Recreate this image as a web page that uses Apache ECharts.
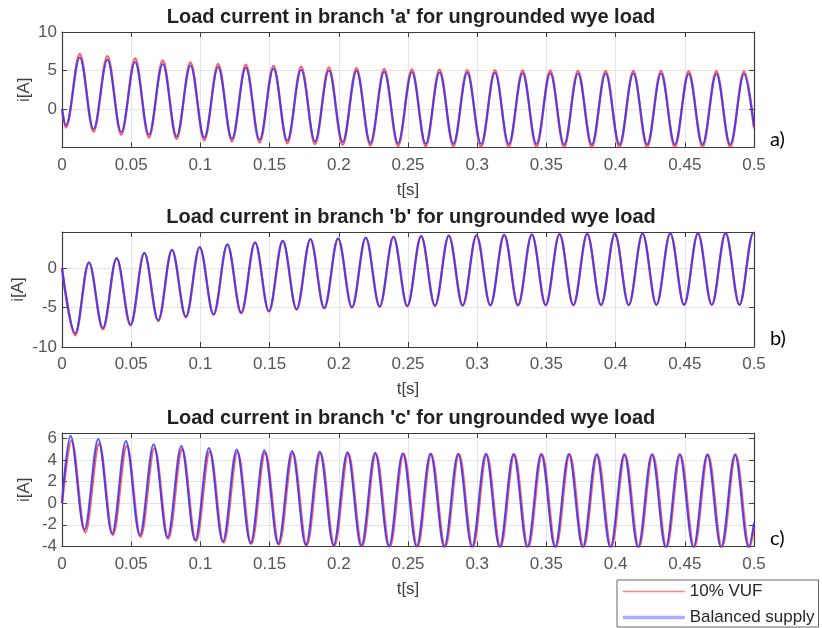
<!DOCTYPE html>
<html><head><meta charset="utf-8">
<script src="https://cdn.jsdelivr.net/npm/echarts@6/dist/echarts.min.js"></script>
<style>html,body{margin:0;padding:0;background:#fff}#c{width:822px;height:628px}</style>
</head><body><div id="c"></div><script>
// ---------------- data ----------------
const seriesNames = ['10% VUF', 'Balanced supply'];
const titles = [
  "Load current in branch 'a' for ungrounded wye load",
  "Load current in branch 'b' for ungrounded wye load",
  "Load current in branch 'c' for ungrounded wye load"
];
const panelTags = ['a)', 'b)', 'c)'];
const xName = 't[s]';
const yName = 'i[A]';

// Successive extremes occur every half cycle (10 ms); first extreme time per trace
const halfPeriod = 0.01;

// branch a : trough first
const aT0 = 0.0028;
const aRedTroughs  = [-2.4,-2.95,-3.35,-3.7,-3.9,-4.05,-4.2,-4.35,-4.45,-4.55,-4.65,-4.75,-4.8,-4.85,-4.85,-4.9,-4.9,-4.9,-4.95,-4.95,-4.95,-4.95,-4.95,-4.95,-4.95];
const aRedPeaks    = [7.15,6.85,6.55,6.3,6.05,5.85,5.75,5.6,5.5,5.4,5.3,5.2,5.15,5.1,5.05,5.05,5.0,5.0,4.95,4.95,4.95,4.95,4.9,4.9,4.9];
const aBlueTroughs = [-2.1,-2.6,-3.0,-3.35,-3.55,-3.7,-3.85,-4.0,-4.1,-4.2,-4.3,-4.4,-4.45,-4.5,-4.5,-4.55,-4.55,-4.55,-4.6,-4.6,-4.6,-4.6,-4.6,-4.6,-4.6];
const aBluePeaks   = [6.7,6.4,6.1,5.85,5.65,5.45,5.35,5.25,5.1,5.0,4.95,4.85,4.8,4.75,4.7,4.7,4.65,4.65,4.6,4.6,4.6,4.6,4.55,4.55,4.55];
const aRedEnds  = [0, -2.5];
const aBlueEnds = [0, -2.3];

// branch b : trough first
const bT0 = 0.0095;
const bRedTroughs  = [-8.5,-7.75,-7.25,-6.7,-6.22,-5.9,-5.7,-5.5,-5.25,-5.1,-5.0,-4.9,-4.83,-4.78,-4.75,-4.72,-4.72,-4.7,-4.7,-4.68,-4.68,-4.67,-4.67,-4.67,-4.67];
const bRedPeaks    = [0.7,1.25,1.9,2.3,2.65,3.0,3.25,3.45,3.65,3.76,3.86,3.96,4.06,4.12,4.17,4.22,4.27,4.32,4.35,4.37,4.4,4.42,4.43,4.44,4.45];
const bBlueTroughs = [-8.25,-7.6,-7.15,-6.6,-6.15,-5.85,-5.65,-5.45,-5.2,-5.05,-4.95,-4.85,-4.8,-4.75,-4.72,-4.7,-4.7,-4.68,-4.68,-4.66,-4.66,-4.65,-4.65,-4.65,-4.65];
const bBluePeaks   = [0.75,1.3,1.95,2.35,2.7,3.05,3.3,3.5,3.7,3.8,3.9,4.0,4.1,4.15,4.2,4.25,4.3,4.35,4.38,4.4,4.42,4.44,4.45,4.46,4.47];
const bRedEnds  = [0, 4.45];
const bBlueEnds = [0, 4.47];

// branch c : peak first (red lags blue slightly)
const cRedT0 = 0.0068;
const cBlueT0 = 0.0062;
const cRedPeaks    = [5.78,5.5,5.32,5.1,5.0,4.8,4.75,4.7,4.65,4.62,4.6,4.57,4.55,4.54,4.53,4.52,4.52,4.51,4.51,4.5,4.5,4.5,4.5,4.5,4.5];
const cRedTroughs  = [-2.7,-2.95,-3.1,-3.28,-3.5,-3.64,-3.76,-3.82,-3.9,-3.95,-4.0,-4.04,-4.06,-4.07,-4.08,-4.08,-4.09,-4.09,-4.1,-4.1,-4.1,-4.1,-4.1,-4.1,-4.1];
const cBluePeaks   = [6.25,5.95,5.75,5.45,5.3,5.12,4.97,4.9,4.84,4.78,4.72,4.66,4.63,4.6,4.58,4.57,4.56,4.55,4.55,4.54,4.54,4.53,4.53,4.52,4.52];
const cBlueTroughs = [-2.45,-2.82,-2.98,-3.18,-3.44,-3.58,-3.72,-3.78,-3.87,-3.92,-3.98,-4.02,-4.04,-4.05,-4.06,-4.07,-4.08,-4.08,-4.09,-4.09,-4.1,-4.1,-4.1,-4.1,-4.1];
const cRedEnds  = [0, -2.2];
const cBlueEnds = [0, -1.8];

// ---------------- build point lists from the read values ----------------
function trace(t0, firstSet, secondSet, ends) {
  const pts = [[0, ends[0]]];
  const n = firstSet.length + secondSet.length;
  for (let k = 0; k < n; k++) {
    const t = Math.round((t0 + halfPeriod * k) * 1e5) / 1e5;
    const v = (k % 2 === 0) ? firstSet[k >> 1] : secondSet[k >> 1];
    if (t <= 0.5) pts.push([t, v]);
  }
  pts.push([0.5, ends[1]]);
  return pts;
}
const traces = [
  [trace(aT0, aRedTroughs, aRedPeaks, aRedEnds), trace(aT0, aBlueTroughs, aBluePeaks, aBlueEnds)],
  [trace(bT0, bRedTroughs, bRedPeaks, bRedEnds), trace(bT0, bBlueTroughs, bBluePeaks, bBlueEnds)],
  [trace(cRedT0, cRedPeaks, cRedTroughs, cRedEnds), trace(cBlueT0, cBluePeaks, cBlueTroughs, cBlueEnds)]
];

// ---------------- layout / style ----------------
const gridBoxes = [
  {left: 62, top: 32, width: 692, height: 115.5, outerBoundsMode: 'none', containLabel: false},
  {left: 62, top: 232, width: 692, height: 115, outerBoundsMode: 'none', containLabel: false},
  {left: 62, top: 433, width: 692, height: 113.4, outerBoundsMode: 'none', containLabel: false}
];
const yRanges = [
  {min: -5, max: 10, interval: 5, showMin: false, showMax: true, nameGap: 29},
  {min: -10, max: 4.6, interval: 5, showMin: true, showMax: false, nameGap: 35},
  {min: -4, max: 6.5, interval: 2, showMin: true, showMax: false, nameGap: 29}
];
const frameColor = '#3c3c3c';
const labelColor = '#555555';
const gridColor = '#e4e4e4';
const FONT = 'Liberation Sans, Arial, sans-serif';

const xAxes = [], yAxes = [], series = [], titleList = [];
gridBoxes.forEach((g, i) => {
  xAxes.push({
    type: 'value', gridIndex: i, min: 0, max: 0.5, interval: 0.05, position: 'bottom',
    name: xName, nameLocation: 'middle', nameGap: 34, nameMoveOverlap: false,
    nameTextStyle: {fontSize: 17, color: '#404040', fontFamily: FONT},
    axisLine: {show: true, onZero: false, lineStyle: {color: frameColor, width: 1.2}},
    axisTick: {show: true, inside: true, length: 5, lineStyle: {color: frameColor}},
    axisLabel: {fontSize: 17, color: labelColor, margin: 9, fontFamily: FONT},
    splitLine: {show: true, lineStyle: {color: gridColor, width: 1}}
  });
  xAxes.push({
    type: 'value', gridIndex: i, min: 0, max: 0.5, interval: 0.05, position: 'top',
    axisLine: {show: true, onZero: false, lineStyle: {color: frameColor, width: 1.2}},
    axisTick: {show: true, inside: true, length: 5, lineStyle: {color: frameColor}},
    axisLabel: {show: false}, splitLine: {show: false}
  });
  const r = yRanges[i];
  yAxes.push({
    type: 'value', gridIndex: i, min: r.min, max: r.max, interval: r.interval, position: 'left',
    name: yName, nameLocation: 'middle', nameGap: r.nameGap, nameMoveOverlap: false,
    nameTextStyle: {fontSize: 17, color: '#404040', fontFamily: FONT},
    axisLine: {show: true, onZero: false, lineStyle: {color: frameColor, width: 1.2}},
    axisTick: {show: true, inside: true, length: 5, lineStyle: {color: frameColor}},
    axisLabel: {fontSize: 17, color: labelColor, margin: 5, fontFamily: FONT,
      showMinLabel: r.showMin, showMaxLabel: r.showMax},
    splitLine: {show: true, lineStyle: {color: gridColor, width: 1}}
  });
  yAxes.push({
    type: 'value', gridIndex: i, min: r.min, max: r.max, interval: r.interval, position: 'right',
    axisLine: {show: true, onZero: false, lineStyle: {color: frameColor, width: 1.2}},
    axisTick: {show: true, inside: true, length: 5, lineStyle: {color: frameColor}},
    axisLabel: {show: false}, splitLine: {show: false}
  });
  series.push({
    name: seriesNames[0], type: 'line', xAxisIndex: 2 * i, yAxisIndex: 2 * i,
    data: traces[i][0], showSymbol: false, symbol: 'none', smooth: 0.35, clip: true,
    lineStyle: {color: '#ff2a2a', width: 2.4, opacity: 0.75}, itemStyle: {color: '#ff2a2a'}, z: 2
  });
  series.push({
    name: seriesNames[1], type: 'line', xAxisIndex: 2 * i, yAxisIndex: 2 * i,
    data: traces[i][1], showSymbol: false, symbol: 'none', smooth: 0.35, clip: true,
    lineStyle: {color: '#3434ff', width: 2, opacity: 0.86}, itemStyle: {color: '#3434ff'}, z: 3
  });
  titleList.push({
    text: titles[i], left: 'center', top: g.top - 25, padding: [0, 6, 0, 0],
    textStyle: {fontSize: 20, fontWeight: 'bold', color: '#222', fontFamily: FONT}
  });
  titleList.push({
    text: panelTags[i], left: 770, top: g.top + g.height - 18, padding: 0,
    textStyle: {fontSize: 20, fontWeight: 'normal', color: '#000', fontFamily: 'Lato, Open Sans, sans-serif'}
  });
});

const chart = echarts.init(document.getElementById('c'));
chart.setOption({
  animation: false,
  backgroundColor: '#fff',
  title: titleList,
  grid: gridBoxes,
  xAxis: xAxes,
  yAxis: yAxes,
  legend: {
    orient: 'vertical', left: 617, top: 580, width: 205, height: 120,
    itemWidth: 62, itemHeight: 14, itemGap: 9,
    padding: [3, 4, 1, 4], borderColor: '#666', borderWidth: 1, backgroundColor: '#fff', borderRadius: 0,
    textStyle: {fontSize: 17, color: '#262626', fontFamily: FONT},
    data: [
      {name: seriesNames[0], lineStyle: {color: '#ff5a5a', width: 1.3}, itemStyle: {opacity: 0}},
      {name: seriesNames[1], lineStyle: {color: '#9c9cff', width: 3.5}, itemStyle: {opacity: 0}}
    ]
  },
  series: series
});
</script></body></html>
